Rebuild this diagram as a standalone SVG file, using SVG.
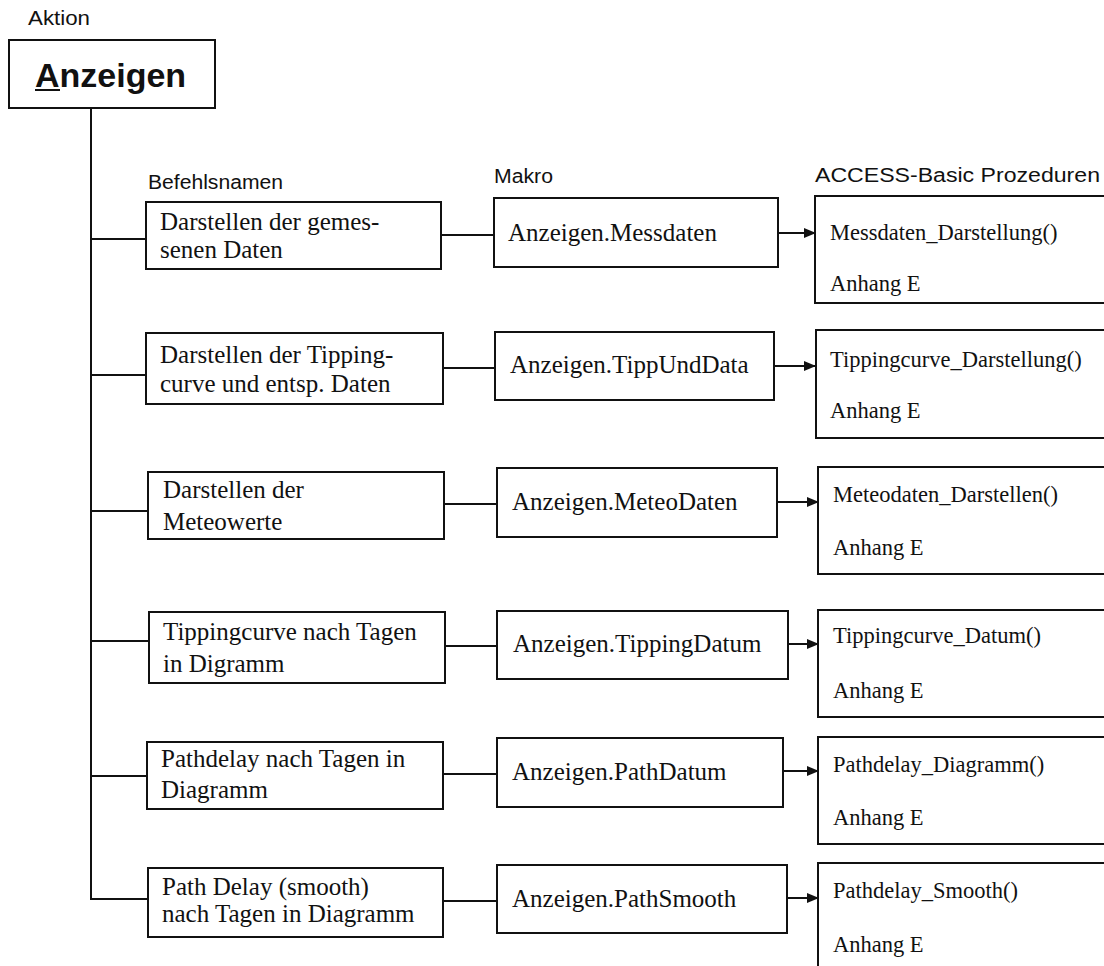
<svg xmlns="http://www.w3.org/2000/svg" width="1104" height="966" viewBox="0 0 1104 966">
<style>
.box{fill:#fff;stroke:#111;stroke-width:2}
.ln{fill:none;stroke:#111;stroke-width:2}
.hd{font-family:"Liberation Sans",Arial,sans-serif;font-size:20px;fill:#111}
.t{font-family:"Liberation Serif","Times New Roman",serif;font-size:25px;fill:#111}
.p{font-family:"Liberation Serif","Times New Roman",serif;font-size:22.5px;fill:#111}
</style>
<defs>
<marker id="ah" markerUnits="userSpaceOnUse" markerWidth="12" markerHeight="10" refX="11" refY="5" orient="auto">
<path d="M0,0 L12,5 L0,10 Z" fill="#111"/>
</marker>
</defs>
<rect width="1104" height="966" fill="#fff"/>

<text class="hd" x="28" y="25" textLength="62" lengthAdjust="spacingAndGlyphs">Aktion</text>
<text class="hd" x="148" y="189" textLength="135" lengthAdjust="spacingAndGlyphs">Befehlsnamen</text>
<text class="hd" x="494" y="183" textLength="59" lengthAdjust="spacingAndGlyphs">Makro</text>
<text class="hd" x="815" y="182" textLength="285" lengthAdjust="spacingAndGlyphs">ACCESS-Basic Prozeduren</text>

<g id="connectors">
<path class="ln" d="M91,108 V899 H148"/>
<path class="ln" d="M91,239 H146"/>
<path class="ln" d="M91,375 H146"/>
<path class="ln" d="M91,511 H148"/>
<path class="ln" d="M91,641 H149"/>
<path class="ln" d="M91,776 H147"/>
<path class="ln" d="M441,235 H494"/>
<path class="ln" d="M443,368 H495"/>
<path class="ln" d="M444,504 H497"/>
<path class="ln" d="M445,646 H497"/>
<path class="ln" d="M443,774 H497"/>
<path class="ln" d="M443,901 H497"/>
<path class="ln" d="M778,233 H815" marker-end="url(#ah)"/>
<path class="ln" d="M774,366 H815" marker-end="url(#ah)"/>
<path class="ln" d="M777,502 H818" marker-end="url(#ah)"/>
<path class="ln" d="M788,644 H818" marker-end="url(#ah)"/>
<path class="ln" d="M783,771 H818" marker-end="url(#ah)"/>
<path class="ln" d="M787,898 H818" marker-end="url(#ah)"/>
</g>

<g id="anzeigen">
<rect class="box" x="9" y="40" width="206" height="68"/>
<text x="35" y="87" font-family="Liberation Sans,Arial,sans-serif" font-size="34" font-weight="bold" fill="#111">Anzeigen</text>
<line x1="35" y1="90" x2="60" y2="90" stroke="#111" stroke-width="2"/>
</g>

<g id="cmd1"><rect class="box" x="146" y="202" width="295" height="67"/>
<text class="t" x="160" y="230">Darstellen der gemes-</text><text class="t" x="160" y="258">senen Daten</text></g>
<g id="cmd2"><rect class="box" x="146" y="333" width="297" height="71"/>
<text class="t" x="160" y="363">Darstellen der Tipping-</text><text class="t" x="160" y="392">curve und entsp. Daten</text></g>
<g id="cmd3"><rect class="box" x="148" y="472" width="296" height="67"/>
<text class="t" x="163" y="498">Darstellen der</text><text class="t" x="163" y="530">Meteowerte</text></g>
<g id="cmd4"><rect class="box" x="149" y="612" width="296" height="71"/>
<text class="t" x="163" y="640">Tippingcurve nach Tagen</text><text class="t" x="163" y="672">in Digramm</text></g>
<g id="cmd5"><rect class="box" x="147" y="742" width="296" height="67"/>
<text class="t" x="161" y="767">Pathdelay nach Tagen in</text><text class="t" x="161" y="798">Diagramm</text></g>
<g id="cmd6"><rect class="box" x="148" y="868" width="295" height="69"/>
<text class="t" x="162" y="895">Path Delay (smooth)</text><text class="t" x="162" y="922">nach Tagen in Diagramm</text></g>

<g id="mak1"><rect class="box" x="494" y="198" width="284" height="69"/><text class="t" x="508" y="241">Anzeigen.Messdaten</text></g>
<g id="mak2"><rect class="box" x="495" y="332" width="279" height="68"/><text class="t" x="510" y="373">Anzeigen.TippUndData</text></g>
<g id="mak3"><rect class="box" x="497" y="468" width="280" height="69"/><text class="t" x="512" y="510">Anzeigen.MeteoDaten</text></g>
<g id="mak4"><rect class="box" x="497" y="611" width="291" height="68"/><text class="t" x="513" y="652">Anzeigen.TippingDatum</text></g>
<g id="mak5"><rect class="box" x="497" y="738" width="286" height="69"/><text class="t" x="512" y="780">Anzeigen.PathDatum</text></g>
<g id="mak6"><rect class="box" x="497" y="865" width="290" height="68"/><text class="t" x="512" y="907">Anzeigen.PathSmooth</text></g>

<g id="proc1"><rect class="box" x="815" y="196" width="300" height="107"/>
<text class="p" x="830" y="240">Messdaten_Darstellung()</text><text class="p" x="830" y="291">Anhang E</text></g>
<g id="proc2"><rect class="box" x="816" y="330" width="300" height="108"/>
<text class="p" x="830" y="367">Tippingcurve_Darstellung()</text><text class="p" x="830" y="418">Anhang E</text></g>
<g id="proc3"><rect class="box" x="818" y="467" width="300" height="107"/>
<text class="p" x="833" y="502">Meteodaten_Darstellen()</text><text class="p" x="833" y="555">Anhang E</text></g>
<g id="proc4"><rect class="box" x="818" y="610" width="300" height="107"/>
<text class="p" x="833" y="643">Tippingcurve_Datum()</text><text class="p" x="833" y="698">Anhang E</text></g>
<g id="proc5"><rect class="box" x="818" y="737" width="300" height="107"/>
<text class="p" x="833" y="772">Pathdelay_Diagramm()</text><text class="p" x="833" y="825">Anhang E</text></g>
<g id="proc6"><path class="ln" d="M818,970 V863 H1110"/>
<text class="p" x="833" y="898">Pathdelay_Smooth()</text><text class="p" x="833" y="952">Anhang E</text></g>
</svg>
